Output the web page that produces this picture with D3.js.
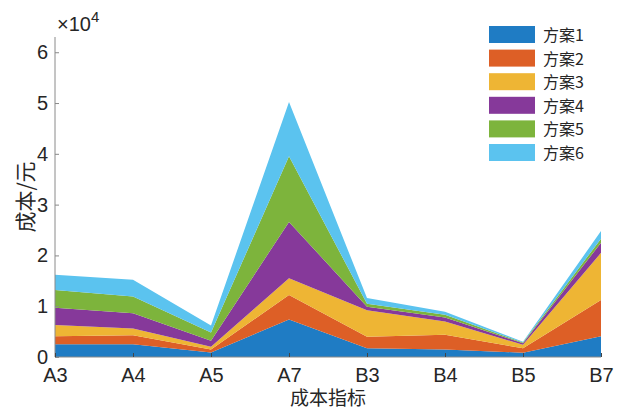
<!DOCTYPE html>
<html>
<head>
<meta charset="utf-8">
<script src="https://cdn.jsdelivr.net/npm/d3@7/dist/d3.min.js"></script>
<style>
  html, body { margin: 0; padding: 0; background: #fff; }
  svg { display: block; font-family: "Liberation Sans", Arial, "Noto Sans CJK SC", sans-serif; }
</style>
</head>
<body>
<svg id="chart" width="625" height="412"></svg>
<script>
const categories = ["A3", "A4", "A5", "A7", "B3", "B4", "B5", "B7"];
const seriesNames = ["方案1", "方案2", "方案3", "方案4", "方案5", "方案6"];
// values in units of 10^4 yuan
const plan1 = [0.25, 0.25, 0.09, 0.74, 0.17, 0.15, 0.085, 0.41];
const plan2 = [0.16, 0.18, 0.06, 0.48, 0.23, 0.29, 0.085, 0.71];
const plan3 = [0.22, 0.13, 0.05, 0.33, 0.52, 0.26, 0.07, 0.93];
const plan4 = [0.34, 0.30, 0.12, 1.11, 0.07, 0.08, 0.03, 0.20];
const plan5 = [0.35, 0.33, 0.16, 1.29, 0.06, 0.05, 0.015, 0.08];
const plan6 = [0.30, 0.33, 0.14, 1.07, 0.11, 0.06, 0.015, 0.15];
const yTicks = [0, 1, 2, 3, 4, 5, 6];
const colors = ["#1f7cc4", "#dd5f26", "#eeb534", "#86399a", "#7db43c", "#5bc3ef"];

const allSeries = [plan1, plan2, plan3, plan4, plan5, plan6];
const table = categories.map((c, i) => {
  const row = { cat: c };
  seriesNames.forEach((s, j) => row[s] = allSeries[j][i]);
  return row;
});

const svg = d3.select("#chart");
const margin = { left: 55, right: 24, top: 37, bottom: 55 };
const W = 625, H = 412;

const x = d3.scalePoint().domain(categories).range([margin.left, W - margin.right]);
const y = d3.scaleLinear().domain([0, 6.3]).range([H - margin.bottom, margin.top]);

const stack = d3.stack().keys(seriesNames);
const stacked = stack(table);

const area = d3.area()
  .x(d => x(d.data.cat))
  .y0(d => y(d[0]))
  .y1(d => y(d[1]));

svg.append("g").selectAll("path")
  .data(stacked)
  .join("path")
  .attr("d", area)
  .attr("fill", (d, i) => colors[i])
  .attr("stroke", "none");

const axisColor = "#8a8a8a";
const textColor = "#262626";

// y axis
const yAxis = svg.append("g")
  .attr("transform", `translate(${margin.left},0)`)
  .call(d3.axisRight(y).tickValues(yTicks).tickSize(4).tickFormat(d3.format("d")));
yAxis.select(".domain").attr("stroke", axisColor).attr("d", `M0,${y(0)}V${margin.top}`);
yAxis.selectAll(".tick line").attr("stroke", axisColor);
yAxis.selectAll(".tick text")
  .attr("x", -7).attr("text-anchor", "end")
  .attr("fill", textColor).attr("font-size", 20);

// x axis
const xAxis = svg.append("g")
  .attr("transform", `translate(0,${y(0)})`)
  .call(d3.axisTop(x).tickSize(4).tickFormat(d => d));
xAxis.select(".domain").attr("stroke", axisColor).attr("d", `M${x.range()[0]},0H${x.range()[1]}`);
xAxis.selectAll(".tick line").attr("stroke", "#444");
xAxis.selectAll(".tick text")
  .attr("y", 25).attr("dy", 0)
  .attr("fill", textColor).attr("font-size", 20);

// exponent label
const expo = svg.append("text")
  .attr("x", 57).attr("y", 31)
  .attr("fill", textColor).attr("font-size", 20);
expo.append("tspan").text("×10");
expo.append("tspan").attr("dy", -9).attr("font-size", 15).text("4");

// y label
svg.append("text")
  .attr("transform", `translate(33,${(y(0) + margin.top) / 2}) rotate(-90)`)
  .attr("text-anchor", "middle")
  .attr("fill", textColor).attr("font-size", 21)
  .attr("font-family", "'Noto Sans CJK SC', sans-serif")
  .text("成本/元");

// x label
svg.append("text")
  .attr("x", (x.range()[0] + x.range()[1]) / 2).attr("y", 405)
  .attr("text-anchor", "middle")
  .attr("fill", textColor).attr("font-size", 19)
  .attr("font-family", "'Noto Sans CJK SC', sans-serif")
  .text("成本指标");

// legend
const legend = svg.append("g");
seriesNames.forEach((s, i) => {
  const g = legend.append("g").attr("transform", `translate(489,${26 + i * 23.6})`);
  g.append("rect").attr("width", 46).attr("height", 17).attr("fill", colors[i]);
  g.append("text").attr("x", 54).attr("y", 15)
    .attr("fill", textColor).attr("font-size", 16)
    .attr("font-family", "'Noto Sans CJK SC', sans-serif")
    .text(s);
});
</script>
</body>
</html>
